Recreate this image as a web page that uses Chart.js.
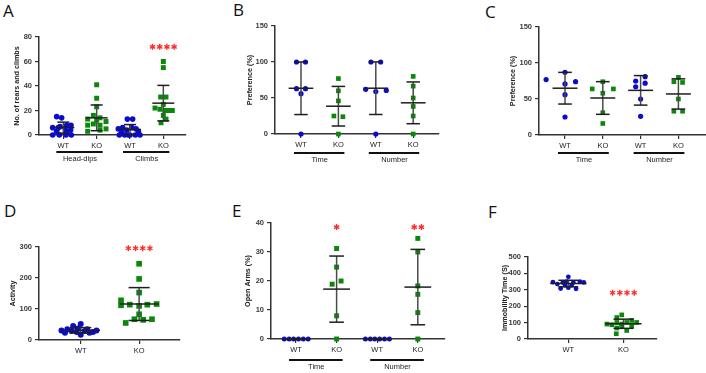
<!DOCTYPE html>
<html>
<head>
<meta charset="utf-8">
<script src="https://cdn.jsdelivr.net/npm/chart.js@4"></script>
<style>
  body { margin: 0; background: #fff; }
  #page { position: relative; width: 706px; height: 373px; overflow: hidden; }
  #page canvas { position: absolute; }
  .letter { position: absolute; font: 17px "Open Sans", sans-serif; line-height: 17px; color: #111; }
</style>
</head>
<body>
<div id="page">
  <div class="letter" style="left:3px;top:2px">A</div>
  <div class="letter" style="left:233px;top:1px">B</div>
  <div class="letter" style="left:485px;top:3px">C</div>
  <div class="letter" style="left:4px;top:202px">D</div>
  <div class="letter" style="left:232px;top:202px">E</div>
  <div class="letter" style="left:488px;top:203px">F</div>
</div>
<script>
const BLUE = '#0b0bcf', GREEN = '#0b870b', RED = '#ff2a2a';
const ticks4 = ['WT', 'KO', 'WT', 'KO'];
const ticks2 = ['WT', 'KO'];

// A - head-dips / climbs
const aGroups = ['Head-dips', 'Climbs'];
const aHeadWT = [15, 14, 8, 8, 7, 6, 6, 6, 4, 3, 3, 0, 0, 0, 0];
const aHeadWTJit = [-0.2, -0.05, 0.1, 0.23, -0.1, -0.32, -0.15, 0.05, 0.22, -0.2, 0.1, -0.32, -0.12, 0.08, 0.24];
const aHeadKO = [41, 30, 23, 16, 14, 13, 12, 11, 9, 8, 8, 5, 4, 3];
const aHeadKOJit = [0, 0, 0, -0.1, 0.1, -0.27, 0, 0.28, -0.1, -0.27, 0.1, 0.28, 0.1, -0.27];
const aClimbWT = [13, 13, 6, 6, 5, 5, 4, 3, 2, 0, 0, 0, 0, 0, 0];
const aClimbWTJit = [-0.08, 0.08, -0.22, 0.05, -0.35, 0.18, -0.1, 0.25, -0.25, -0.32, -0.16, 0, 0.16, 0.3, -0.05];
const aClimbKO = [60, 55, 31, 31, 25, 22, 21, 20, 20, 20, 16, 13, 10];
const aClimbKOJit = [0, 0, -0.08, 0.08, 0, -0.25, -0.1, 0.05, 0.27, 0.15, 0, 0.08, -0.07];
const aMean = [6, 14, 4.5, 26];
const aSd = [4.5, 10.5, 4, 14.5];
const aStars = [0, 0, 0, 4];

// B - preference
const bGroups = ['Time', 'Number'];
const bTimeWT = [100, 100, 63, 63, 56, 0];
const bTimeWTJit = [-0.12, 0.12, -0.12, 0.12, 0, 0];
const bTimeKO = [77, 60, 46, 25, 24, 0];
const bTimeKOJit = [0, 0, 0, -0.12, 0.12, 0];
const bNumWT = [100, 100, 62, 59, 60.5, 0];
const bNumWTJit = [-0.13, 0.13, -0.27, 0, 0.28, 0];
const bNumKO = [80, 66.5, 50, 38.3, 25, 0];
const bNumKOJit = [0, 0, 0, 0, 0, 0];
const bMean = [63.5, 38.6, 63.6, 43.3];
const bSd = [36.5, 27.5, 36.5, 29];

// C - preference
const cTimeWT = [77, 87, 71, 74, 56, 25];
const cTimeWTJit = [-0.5, 0, 0, 0.28, 0, 0];
const cTimeKO = [64, 64, 74, 58, 31, 16];
const cTimeKOJit = [-0.28, 0.28, 0, 0, 0, 0];
const cNumWT = [75, 81, 72, 67, 50, 26];
const cNumWTJit = [-0.13, 0.12, 0.12, -0.13, 0, 0];
const cNumKO = [74, 73, 80, 50, 33, 33];
const cNumKOJit = [-0.12, 0.11, 0, 0, -0.12, 0.11];
const cMean = [65, 51.4, 62, 57];
const cSd = [22, 22.7, 20.5, 21];

// D - activity
const dWT = [52, 45, 37, 35, 35, 31, 31, 29, 29, 26, 26, 23, 23, 17];
const dWTJit = [0, -0.13, -0.05, -0.23, 0.11, -0.33, 0.27, -0.16, 0.07, -0.07, 0.21, -0.27, 0.15, 0];
const dKO = [246, 197, 153, 128, 112, 114, 114, 116, 110, 83, 67, 65, 67, 55];
const dKOJit = [0, 0, 0, -0.31, -0.31, -0.16, 0.14, 0.3, 0, 0, -0.08, 0.07, 0.22, -0.23];
const dMean = [31.5, 116];
const dSd = [8.5, 53];
const dStars = [0, 4];

// E - open arms
const eTimeWT = [0, 0, 0, 0, 0, 0];
const eTimeKO = [31.2, 24.8, 18.9, 20, 8, 0];
const eTimeKOJit = [0, 0, -0.11, 0.11, 0, 0];
const eNumWT = [0, 0, 0, 0, 0, 0];
const eNumKO = [34.7, 30, 18.3, 15.4, 9.1, 0];
const eNumKOJit = [0, 0, 0, 0, 0, 0];
const eZeroJit = [-0.29, -0.17, -0.06, 0.06, 0.18, 0.3];
const eMean = [0, 17.2, 0, 17.9];
const eSd = [0, 11.4, 0, 13];
const eStars = [0, 1, 0, 2];

// F - immobility
const fWT = [379, 347, 335, 345, 349, 345, 349, 345, 308, 313, 306, 329, 329];
const fWTJit = [0, -0.28, -0.2, -0.1, -0.03, 0.09, 0.21, 0.28, -0.14, 0, 0.14, -0.06, 0.06];
const fKO = [147, 131, 91, 87, 101, 101, 113, 101, 67, 77, 52, 77, 32, 91];
const fKOJit = [-0.03, -0.12, -0.3, -0.21, -0.12, 0.06, 0.15, 0.24, -0.12, -0.03, 0.06, 0.15, -0.13, -0.03];
const fMean = [338, 93];
const fSd = [20, 28];
const fStars = [0, 4];

Chart.defaults.font.family = "'Liberation Sans', Arial, sans-serif";

function line(ctx, x1, y1, x2, y2) {
  ctx.beginPath(); ctx.moveTo(x1, y1); ctx.lineTo(x2, y2); ctx.stroke();
}

const decor = {
  id: 'decor',
  afterDatasetsDraw(chart, args, o) {
    const ctx = chart.ctx, x = chart.scales.x, y = chart.scales.y;
    const unit = x.getPixelForValue(2) - x.getPixelForValue(1);
    ctx.save();
    ctx.lineWidth = 1.5;
    o.mean.forEach((m, i) => {
      const cx = x.getPixelForValue(i + 1);
      const yt = y.getPixelForValue(m + o.sd[i]);
      const yb = y.getPixelForValue(m - o.sd[i]);
      const ym = y.getPixelForValue(m);
      ctx.strokeStyle = '#4a4a4a';
      line(ctx, cx, yt, cx, yb);
      ctx.strokeStyle = '#1e1e1e';
      line(ctx, cx - unit * 0.18, yt, cx + unit * 0.18, yt);
      line(ctx, cx - unit * 0.18, yb, cx + unit * 0.18, yb);
      line(ctx, cx - unit * 0.33, ym, cx + unit * 0.33, ym);
    });
    ctx.restore();
  },
  afterDraw(chart, args, o) {
    const ctx = chart.ctx, x = chart.scales.x, y = chart.scales.y;
    const base = chart.chartArea.bottom;
    ctx.save();
    (o.groups || []).forEach((g, i) => {
      const x1 = x.getPixelForValue(2 * i + 1), x2 = x.getPixelForValue(2 * i + 2);
      ctx.strokeStyle = '#111'; ctx.lineWidth = 2;
      line(ctx, x1 - 7, base + o.groupY, x2 + 6, base + o.groupY);
      ctx.fillStyle = '#222';
      ctx.font = "7.5px 'Liberation Sans', Arial, sans-serif";
      ctx.textAlign = 'center'; ctx.textBaseline = 'middle';
      ctx.fillText(g, (x1 + x2) / 2, base + o.groupY + 7);
    });
    ctx.strokeStyle = RED; ctx.lineWidth = 1.4;
    (o.stars || []).forEach((n, i) => {
      const cx = x.getPixelForValue(i + 1), cy = y.getPixelForValue(o.starY);
      for (let k = 0; k < n; k++) {
        const sx = cx + (k - (n - 1) / 2) * 7.2;
        for (let a = 0; a < 3; a++) {
          const ang = Math.PI / 2 + a * Math.PI / 3;
          line(ctx, sx - 3 * Math.cos(ang), cy - 3 * Math.sin(ang), sx + 3 * Math.cos(ang), cy + 3 * Math.sin(ang));
        }
      }
    });
    ctx.restore();
  }
};

function pts(vals, jit, pos) {
  return vals.map((v, k) => ({ x: pos + (jit ? jit[k] : 0), y: v }));
}

function set(vals, jit, pos, wt, r) {
  return {
    data: pts(vals, jit, pos),
    pointStyle: wt ? 'circle' : 'rect',
    pointRadius: wt ? r[0] : r[1],
    backgroundColor: wt ? BLUE : GREEN,
    borderWidth: 0,
    showLine: false,
    clip: false
  };
}

function panel(box, opt) {
  const canvas = document.createElement('canvas');
  const W = box.r - box.l + 38 + 6, H = box.b - box.t + 14 + 16 + 24;
  canvas.width = W; canvas.height = H;
  canvas.style.left = (box.l - 38) + 'px';
  canvas.style.top = (box.t - 14) + 'px';
  document.getElementById('page').appendChild(canvas);
  const tickFont = { size: 7.5 };
  new Chart(canvas, {
    type: 'scatter',
    data: { datasets: opt.datasets },
    options: {
      responsive: false,
      animation: false,
      layout: { padding: { left: 0, top: 14, right: 6, bottom: 24 } },
      plugins: {
        legend: { display: false },
        tooltip: { enabled: false },
        decor: opt.decor
      },
      scales: {
        x: {
          type: 'linear', min: opt.xMin, max: opt.xMax,
          afterFit: s => { s.height = 16; },
          afterBuildTicks: s => { s.ticks = opt.ticks.map((t, i) => ({ value: i + 1 })); },
          ticks: { callback: (v, i) => opt.ticks[i], font: tickFont, color: '#222', padding: 2, maxRotation: 0, autoSkip: false },
          grid: { drawOnChartArea: false, tickLength: 4, tickColor: '#333', lineWidth: 1.2 },
          border: { color: '#333', width: 1.5 }
        },
        y: {
          min: 0, max: opt.yMax,
          afterFit: s => { s.width = 38; },
          ticks: { stepSize: opt.step, font: { size: 7.5, weight: 'bold' }, color: '#3a3a3a', padding: 3 },
          grid: { drawOnChartArea: false, tickLength: 4, tickColor: '#333', lineWidth: 1.2 },
          border: { color: '#333', width: 1.5 },
          title: { display: true, text: opt.title, font: { size: 7.2, weight: 'bold' }, color: '#222', padding: { top: opt.titlePad, bottom: 0 } }
        }
      }
    },
    plugins: [decor]
  });
}

panel({ l: 39, r: 186, t: 37, b: 135 }, {
  xMin: 0.27, xMax: 4.68, yMax: 80, step: 20, ticks: ticks4,
  title: 'No. of rears and climbs', titlePad: 11.8,
  datasets: [
    set(aHeadWT, aHeadWTJit, 1, true, [2.8, 3.5]),
    set(aHeadKO, aHeadKOJit, 2, false, [2.8, 3.5]),
    set(aClimbWT, aClimbWTJit, 3, true, [2.8, 3.5]),
    set(aClimbKO, aClimbKOJit, 4, false, [2.8, 3.5])
  ],
  decor: { mean: aMean, sd: aSd, groups: aGroups, groupY: 17, stars: aStars, starY: 72 }
});

panel({ l: 275, r: 439, t: 26, b: 134 }, {
  xMin: 0.305, xMax: 4.69, yMax: 150, step: 50, ticks: ticks4,
  title: 'Preference (%)', titlePad: 8.8,
  datasets: [
    set(bTimeWT, bTimeWTJit, 1, true, [2.6, 3.3]),
    set(bTimeKO, bTimeKOJit, 2, false, [2.6, 3.3]),
    set(bNumWT, bNumWTJit, 3, true, [2.6, 3.3]),
    set(bNumKO, bNumKOJit, 4, false, [2.6, 3.3])
  ],
  decor: { mean: bMean, sd: bSd, groups: bGroups, groupY: 19 }
});

panel({ l: 539, r: 706, t: 27, b: 135 }, {
  xMin: 0.312, xMax: 4.73, yMax: 150, step: 50, ticks: ticks4,
  title: 'Preference (%)', titlePad: 7.8,
  datasets: [
    set(cTimeWT, cTimeWTJit, 1, true, [2.6, 3.3]),
    set(cTimeKO, cTimeKOJit, 2, false, [2.6, 3.3]),
    set(cNumWT, cNumWTJit, 3, true, [2.6, 3.3]),
    set(cNumKO, cNumKOJit, 4, false, [2.6, 3.3])
  ],
  decor: { mean: cMean, sd: cSd, groups: bGroups, groupY: 18 }
});

panel({ l: 39, r: 180, t: 247, b: 340 }, {
  xMin: 0.285, xMax: 2.7, yMax: 300, step: 100, ticks: ticks2,
  title: 'Activity', titlePad: 7.8,
  datasets: [
    set(dWT, dWTJit, 1, true, [3, 4]),
    set(dKO, dKOJit, 2, false, [3, 4])
  ],
  decor: { mean: dMean, sd: dSd, stars: dStars, starY: 296 }
});

panel({ l: 271, r: 445, t: 223, b: 339 }, {
  xMin: 0.384, xMax: 4.67, yMax: 40, step: 10, ticks: ticks4,
  title: 'Open Arms (%)', titlePad: 10.8,
  datasets: [
    set(eTimeWT, eZeroJit, 1, true, [2.5, 3.5]),
    set(eTimeKO, eTimeKOJit, 2, false, [2.5, 3.5]),
    set(eNumWT, eZeroJit, 3, true, [2.5, 3.5]),
    set(eNumKO, eNumKOJit, 4, false, [2.5, 3.5])
  ],
  decor: { mean: eMean, sd: eSd, groups: bGroups, groupY: 21, stars: eStars, starY: 38.6 }
});

panel({ l: 528, r: 657, t: 257, b: 339 }, {
  xMin: 0.267, xMax: 2.61, yMax: 500, step: 100, ticks: ticks2,
  title: 'Immobility Time (S)', titlePad: 10.8,
  datasets: [
    set(fWT, fWTJit, 1, true, [2.4, 3.3]),
    set(fKO, fKOJit, 2, false, [2.4, 3.3])
  ],
  decor: { mean: fMean, sd: fSd, stars: fStars, starY: 282 }
});
</script>
</body>
</html>
